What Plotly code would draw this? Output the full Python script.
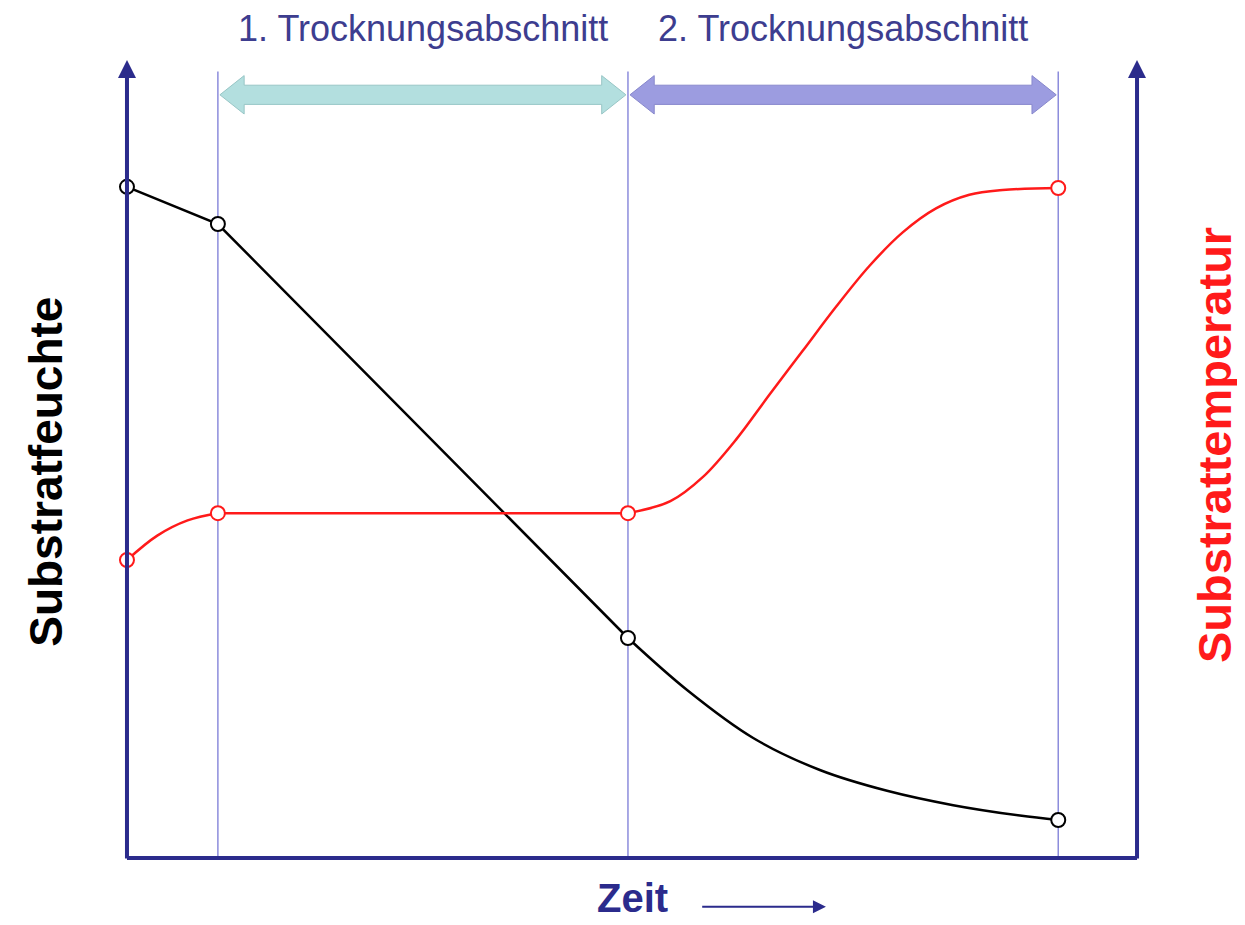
import plotly.graph_objects as go

# ---- data (time axis 0..100, value axis 0..100, schematic units) ----
key_t = [0.0, 9.0, 49.6, 92.2]            # phase boundaries / marked points
black_key = [83.9, 79.25, 27.5, 4.75]      # Substratfeuchte at marked points
red_key = [37.25, 43.1, 43.1, 83.75]       # Substrattemperatur at marked points

black_t = [0.0, 9.0, 49.6, 55.45, 62.0, 68.6, 75.25, 81.8, 88.4, 92.2]
black_y = [83.9, 79.25, 27.5, 21.0, 15.0, 11.0, 8.4, 6.6, 5.3, 4.75]

red_t = [0.0, 3.0, 6.0, 9.0, 49.6, 53.8, 57.0, 60.3, 63.6, 66.9, 70.2, 73.5, 76.8, 80.1, 83.4, 86.7, 92.2]
red_y = [37.25, 40.3, 42.2, 43.1, 43.1, 44.6, 47.6, 52.3, 57.9, 63.4, 68.9, 74.0, 78.2, 81.2, 82.9, 83.5, 83.75]

phase_labels = ["1. Trocknungsabschnitt", "2. Trocknungsabschnitt"]
left_title = "Substratfeuchte"
right_title = "Substrattemperatur"
x_title = "Zeit"

AXIS_C = "#2b2b8c"
VLINE_C = "#8c8cdc"
TEXT_C = "#3d3d8f"
RED = "#ff1a1a"
FONT = "Liberation Sans, Arial, sans-serif"

fig = go.Figure()

# black curve: straight part then smooth decay
fig.add_trace(go.Scatter(x=black_t[:3], y=black_y[:3], mode="lines",
                         line=dict(color="black", width=2.5), hoverinfo="skip"))
fig.add_trace(go.Scatter(x=black_t[2:], y=black_y[2:], mode="lines",
                         line=dict(color="black", width=2.5, shape="spline", smoothing=1.0),
                         hoverinfo="skip"))
# red curve
fig.add_trace(go.Scatter(x=red_t[:4], y=red_y[:4], mode="lines",
                         line=dict(color=RED, width=2.5, shape="spline", smoothing=1.0),
                         hoverinfo="skip"))
fig.add_trace(go.Scatter(x=red_t[3:5], y=red_y[3:5], mode="lines",
                         line=dict(color=RED, width=2.5), hoverinfo="skip"))
fig.add_trace(go.Scatter(x=red_t[4:], y=red_y[4:], mode="lines",
                         line=dict(color=RED, width=2.5, shape="spline", smoothing=1.0),
                         hoverinfo="skip"))
# markers
fig.add_trace(go.Scatter(x=key_t, y=black_key, mode="markers",
                         marker=dict(symbol="circle", size=14, color="white",
                                     line=dict(color="black", width=2))))
fig.add_trace(go.Scatter(x=key_t, y=red_key, mode="markers",
                         marker=dict(symbol="circle", size=14, color="white",
                                     line=dict(color=RED, width=2))))

shapes = []
annotations = []

# vertical phase lines
for t in key_t[1:]:
    shapes.append(dict(type="line", xref="x", yref="y", x0=t, x1=t, y0=0, y1=98.3,
                       line=dict(color=VLINE_C, width=1.5), layer="below"))

# bottom axis line
shapes.append(dict(type="line", xref="x", yref="y", x0=0, x1=100, y0=0, y1=0,
                   line=dict(color=AXIS_C, width=4)))

# block double arrows at top
def double_arrow(xa, xb, yc, half_shaft, half_head, head_len):
    p = [
        (xa, yc), (xa + head_len, yc + half_head), (xa + head_len, yc + half_shaft),
        (xb - head_len, yc + half_shaft), (xb - head_len, yc + half_head), (xb, yc),
        (xb - head_len, yc - half_head), (xb - head_len, yc - half_shaft),
        (xa + head_len, yc - half_shaft), (xa + head_len, yc - half_head),
    ]
    return "M " + " L ".join(f"{x},{y}" for x, y in p) + " Z"

arrow_styles = [("#b3dfdf", "#98c6c6"), ("#9c9ce0", "#8888cc")]
for i in range(2):
    xa = key_t[i + 1] + 0.2
    xb = key_t[i + 2] - 0.2
    fill, edge = arrow_styles[i]
    shapes.append(dict(type="path", xref="x", yref="y",
                       path=double_arrow(xa, xb, 95.4, 1.2, 2.4, 2.4),
                       fillcolor=fill, line=dict(color=edge, width=1)))
    annotations.append(dict(x=(key_t[i + 1] + key_t[i + 2]) / 2, y=103.75, xref="x", yref="y",
                            text=phase_labels[i], showarrow=False,
                            font=dict(family=FONT, size=36, color=TEXT_C),
                            xanchor="center", yanchor="middle"))

# left and right axis arrows
for xpos in (0, 100):
    annotations.append(dict(x=xpos, y=99.75, ax=xpos, ay=-0.25, xref="x", yref="y",
                            axref="x", ayref="y", text="", showarrow=True,
                            arrowhead=2, arrowsize=0.9, arrowwidth=4, arrowcolor=AXIS_C))

# axis titles
annotations.append(dict(x=-8.1, y=48.3, xref="x", yref="y", text=f"<b>{left_title}</b>",
                        textangle=-90, showarrow=False,
                        font=dict(family=FONT, size=46, color="black")))
annotations.append(dict(x=107.6, y=51.6, xref="x", yref="y", text=f"<b>{right_title}</b>",
                        textangle=-90, showarrow=False,
                        font=dict(family=FONT, size=47, color=RED)))
annotations.append(dict(x=50.0, y=-5.0, xref="x", yref="y", text=f"<b>{x_title}</b>",
                        showarrow=False, font=dict(family=FONT, size=40, color=AXIS_C)))
annotations.append(dict(x=69.2, y=-6.1, ax=56.8, ay=-6.1, xref="x", yref="y",
                        axref="x", ayref="y", text="", showarrow=True,
                        arrowhead=2, arrowsize=1.3, arrowwidth=2, arrowcolor=AXIS_C))

# page has an 8px body margin: figure spans picture pixels 8..1245 / 8..925
fig.update_layout(
    width=1237, height=917,
    margin=dict(l=0, r=0, t=0, b=0),
    paper_bgcolor="white", plot_bgcolor="white",
    showlegend=False,
    xaxis=dict(range=[-11.78, 110.69], visible=False, fixedrange=True),
    yaxis=dict(range=[-8.375, 106.25], visible=False, fixedrange=True),
    shapes=shapes, annotations=annotations,
)

fig.write_html("out.html")
